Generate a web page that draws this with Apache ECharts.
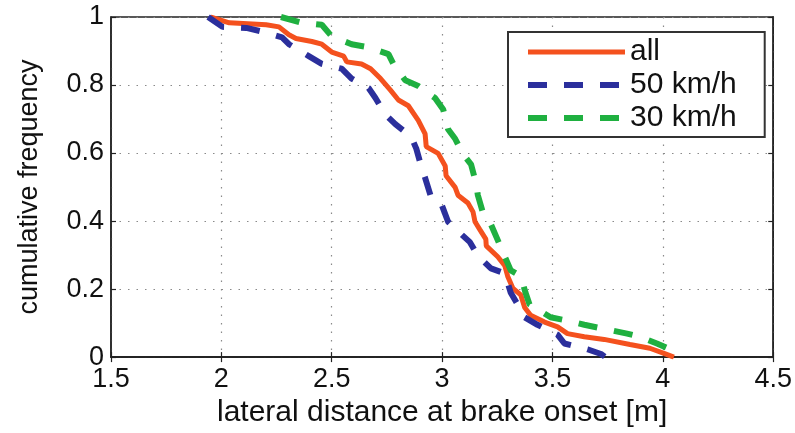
<!DOCTYPE html>
<html>
<head>
<meta charset="utf-8">
<script src="https://cdn.jsdelivr.net/npm/echarts@6/dist/echarts.min.js"></script>
<style>
html,body{margin:0;padding:0;background:#fff;}
#chart{width:795px;height:433px;}
</style>
</head>
<body>
<div id="chart"></div>
<script>
var xTicks = [1.5, 2, 2.5, 3, 3.5, 4, 4.5];
var yTicks = [0, 0.2, 0.4, 0.6, 0.8, 1];
var seriesNames = ['all', '50 km/h', '30 km/h'];

var allData = [
  [1.95,1.0],[2.036,0.983],[2.203,0.977],[2.261,0.971],[2.306,0.948],[2.338,0.937],
  [2.41,0.928],[2.455,0.92],[2.5,0.897],[2.554,0.885],[2.568,0.868],[2.635,0.862],
  [2.676,0.848],[2.721,0.819],[2.766,0.785],[2.802,0.756],[2.847,0.739],[2.892,0.696],
  [2.923,0.656],[2.928,0.619],[2.982,0.599],[3.014,0.562],[3.018,0.533],[3.059,0.499],
  [3.072,0.476],[3.117,0.453],[3.14,0.427],[3.149,0.398],[3.171,0.375],[3.198,0.347],
  [3.2,0.327],[3.252,0.295],[3.284,0.269],[3.297,0.238],[3.32,0.203],[3.356,0.183],
  [3.374,0.146],[3.401,0.123],[3.464,0.103],[3.523,0.089],[3.568,0.069],[3.644,0.06],
  [3.734,0.052],[3.851,0.037],[3.941,0.026],[4.005,0.011],[4.05,0.0]
];
var kmh50Data = [
  [1.94,1.0],[2.005,0.971],[2.113,0.968],[2.185,0.957],[2.275,0.94],[2.306,0.92],
  [2.396,0.885],[2.455,0.862],[2.545,0.848],[2.59,0.819],[2.667,0.791],[2.698,0.762],
  [2.743,0.713],[2.788,0.685],[2.86,0.648],[2.883,0.613],[2.905,0.562],[2.923,0.527],
  [2.95,0.47],[2.995,0.453],[3.027,0.398],[3.072,0.37],[3.126,0.338],[3.162,0.298],
  [3.221,0.261],[3.284,0.246],[3.311,0.189],[3.342,0.155],[3.374,0.117],[3.432,0.095],
  [3.523,0.066],[3.554,0.04],[3.658,0.023],[3.72,0.009],[3.74,0.0]
];
var kmh30Data = [
  [2.27,1.0],[2.365,0.983],[2.455,0.977],[2.5,0.943],[2.59,0.92],[2.667,0.911],
  [2.757,0.891],[2.779,0.862],[2.833,0.814],[2.892,0.797],[2.968,0.762],[3.005,0.728],
  [3.027,0.67],[3.059,0.642],[3.095,0.596],[3.131,0.567],[3.153,0.513],[3.162,0.476],
  [3.185,0.424],[3.216,0.398],[3.252,0.344],[3.284,0.295],[3.311,0.255],[3.356,0.238],
  [3.378,0.189],[3.396,0.155],[3.491,0.117],[3.554,0.109],[3.644,0.095],[3.734,0.083],
  [3.838,0.069],[3.896,0.06],[3.973,0.04],[4.032,0.023],[4.055,0.0]
];

var colors = ['#f4511e', '#2b2f9c', '#1fb040'];
var lineWidths = [5, 6, 6];
var dash = [19, 17];
var font = 'Liberation Sans, Arial, Helvetica, sans-serif';

var chart = echarts.init(document.getElementById('chart'), null, {renderer: 'canvas'});

var xMin = xTicks[0], xMax = xTicks[xTicks.length - 1], xInt = xTicks[1] - xTicks[0];
var yMin = yTicks[0], yMax = yTicks[yTicks.length - 1], yInt = yTicks[1] - yTicks[0];

var gridLine = {show: true, lineStyle: {color: '#8a8a8a', width: 1.2, type: [1.5, 7]}};

var option = {
  animation: false,
  backgroundColor: '#fff',
  grid: {left: 111, right: 19, top: 17, bottom: 67, containLabel: false,
         show: true, borderColor: '#222', borderWidth: 1.5},
  legend: {
    data: seriesNames.map(function (n, i) {
      return {name: n, lineStyle: {width: lineWidths[i], type: i === 0 ? 'solid' : dash, cap: 'butt'}};
    }),
    orient: 'vertical',
    left: 508, top: 32,
    padding: [5, 28, 4, 17],
    itemWidth: 97, itemHeight: 20, itemGap: 3, itemTextGap: 10,
    itemStyle: {opacity: 0},
    borderColor: '#333', borderWidth: 2, backgroundColor: '#fff',
    textStyle: {fontFamily: font, fontSize: 30, color: '#111', lineHeight: 30}
  },
  xAxis: [{
    type: 'value', min: xMin, max: xMax, interval: xInt, position: 'bottom',
    name: 'lateral distance at brake onset [m]', nameLocation: 'middle', nameGap: 30,
    nameTextStyle: {fontFamily: font, fontSize: 30, color: '#111'},
    axisLine: {show: true, lineStyle: {color: '#222', width: 1.5}},
    axisTick: {show: true, inside: true, length: 5, lineStyle: {color: '#222', width: 1.2}},
    axisLabel: {fontFamily: font, fontSize: 27, color: '#111', margin: 9,
                formatter: function (v) { return String(v); }},
    splitLine: gridLine
  }, {
    type: 'value', min: xMin, max: xMax, interval: xInt, position: 'top',
    axisLine: {show: true, lineStyle: {color: '#222', width: 1.5}},
    axisTick: {show: true, inside: true, length: 5, lineStyle: {color: '#222', width: 1.2}},
    axisLabel: {show: false}, splitLine: {show: false}
  }],
  yAxis: [{
    type: 'value', min: yMin, max: yMax, interval: yInt, position: 'left',
    name: 'cumulative frequency', nameLocation: 'middle', nameGap: 68, nameRotate: 90,
    nameTextStyle: {fontFamily: font, fontSize: 27, color: '#111'},
    axisLine: {show: true, lineStyle: {color: '#222', width: 1.5}},
    axisTick: {show: true, inside: true, length: 5, lineStyle: {color: '#222', width: 1.2}},
    axisLabel: {fontFamily: font, fontSize: 27, color: '#111', margin: 7,
                formatter: function (v) { return String(Math.round(v * 10) / 10); }},
    splitLine: gridLine
  }, {
    type: 'value', min: yMin, max: yMax, interval: yInt, position: 'right',
    axisLine: {show: true, lineStyle: {color: '#222', width: 1.5}},
    axisTick: {show: true, inside: true, length: 5, lineStyle: {color: '#222', width: 1.2}},
    axisLabel: {show: false}, splitLine: {show: false}
  }],
  series: [{
    name: seriesNames[0], type: 'line', data: allData, showSymbol: false, symbol: 'none',
    lineStyle: {color: colors[0], width: lineWidths[0], type: 'solid'}, itemStyle: {color: colors[0]},
    z: 2
  }, {
    name: seriesNames[1], type: 'line', data: kmh50Data, showSymbol: false, symbol: 'none',
    lineStyle: {color: colors[1], width: lineWidths[1], type: dash, cap: 'butt'}, itemStyle: {color: colors[1]},
    z: 3
  }, {
    name: seriesNames[2], type: 'line', data: kmh30Data, showSymbol: false, symbol: 'none',
    lineStyle: {color: colors[2], width: lineWidths[2], type: dash, cap: 'butt'}, itemStyle: {color: colors[2]},
    z: 4
  }]
};
chart.setOption(option);
</script>
</body>
</html>
